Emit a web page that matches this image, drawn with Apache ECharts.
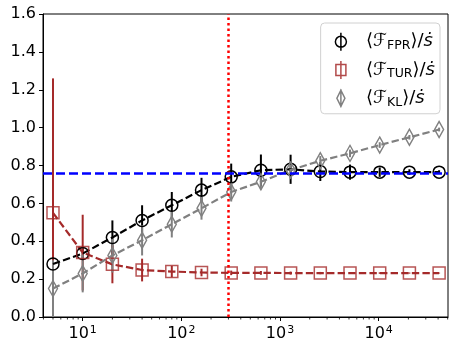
<!DOCTYPE html>
<html>
<head>
<meta charset="utf-8">
<script src="https://cdn.jsdelivr.net/npm/echarts@6/dist/echarts.min.js"></script>
<style>
  html, body { margin: 0; padding: 0; background: #fff; }
  #main { width: 457px; height: 350px; }
</style>
</head>
<body>
<div id="main"></div>
<script>
// data
var ns = [5, 10, 20, 40, 80, 160, 320, 640, 1280, 2560, 5120, 10240, 20480, 40960];
var fpr = [0.28, 0.335, 0.42, 0.51, 0.59, 0.67, 0.74, 0.775, 0.78, 0.768, 0.765, 0.765, 0.765, 0.765];
var fprErr = [0.02, 0.03, 0.09, 0.08, 0.07, 0.065, 0.07, 0.083, 0.077, 0.05, 0.04, 0.025, 0.015, 0.01];
var tur = [0.55, 0.34, 0.278, 0.248, 0.24, 0.235, 0.233, 0.233, 0.232, 0.232, 0.232, 0.232, 0.232, 0.232];
var turErr = [0.71, 0.2, 0.1, 0.06, 0.03, 0.02, 0.012, 0.01, 0.008, 0.006, 0.005, 0.004, 0.003, 0.002];
var kl = [0.15, 0.23, 0.325, 0.405, 0.49, 0.574, 0.66, 0.714, 0.776, 0.825, 0.864, 0.908, 0.949, 0.99];
var klErr = [0.15, 0.1, 0.09, 0.08, 0.07, 0.06, 0.05, 0.04, 0.03, 0.025, 0.02, 0.015, 0.012, 0.01];

var vLineX = 300;     // red dotted line
var hLineY = 0.764;   // blue dashed line
var yTicks = [0, 0.2, 0.4, 0.6, 0.8, 1.0, 1.2, 1.4, 1.6];

var X_MIN = 3.96, X_MAX = 50400;

// minor tick positions on the log axis
var minorTicks = [];
for (var e = 0; e <= 4; e++) {
  for (var m = 2; m <= 9; m++) {
    var v = m * Math.pow(10, e);
    if (v > X_MIN && v < X_MAX) minorTicks.push(v);
  }
}

var BLACK = '#000000', BROWN = '#a52a2a', GREY = '#808080';
var CLEAR = 'rgba(255,255,255,0)';

function errSeries(name, vals, errs, color) {
  return {
    type: 'custom',
    name: name,
    data: ns.map(function (n, i) { return [n, vals[i] - errs[i], vals[i] + errs[i]]; }),
    encode: { x: 0, y: [1, 2] },
    renderItem: function (params, api) {
      var cs = params.coordSys;
      var p1 = api.coord([api.value(0), api.value(1)]);
      var p2 = api.coord([api.value(0), api.value(2)]);
      var y1 = Math.min(Math.max(p1[1], cs.y), cs.y + cs.height);
      var y2 = Math.min(Math.max(p2[1], cs.y), cs.y + cs.height);
      return {
        type: 'line',
        shape: { x1: p1[0], y1: y1, x2: p2[0], y2: y2 },
        style: { stroke: color, lineWidth: 2 }
      };
    },
    silent: true
  };
}

function lineSeries(name, vals, color, symbol, size, opacity) {
  return {
    type: 'line',
    name: name,
    data: ns.map(function (n, i) { return [n, vals[i]]; }),
    symbol: symbol,
    symbolSize: size,
    showAllSymbol: true,
    lineStyle: { color: color, width: 2.2, type: [7.4, 3.2] },
    itemStyle: { color: CLEAR, borderColor: color, borderWidth: 1.5, opacity: opacity },
    emphasis: { disabled: true },
    animation: false
  };
}

var chart = echarts.init(document.getElementById('main'), null, { renderer: 'canvas' });

var option = {
  animation: false,
  grid: { left: 43, right: 9, top: 14, bottom: 33, show: true, borderColor: '#000', borderWidth: 1 },
  legend: {
    orient: 'vertical',
    right: 17,
    top: 23,
    padding: [9, 5, 5, 14],
    itemGap: 8,
    itemWidth: 18,
    itemHeight: 18,
    backgroundColor: 'rgba(255,255,255,0.85)',
    borderColor: '#d0d0d0',
    borderWidth: 1,
    borderRadius: 4,
    data: [
      { name: 'FPR', icon: 'path://M0.5,9 A5.5,5.5 0 1,1 11.5,9 A5.5,5.5 0 1,1 0.5,9 Z M6,0 L6,18',
        itemStyle: { color: CLEAR, borderColor: BLACK, borderWidth: 1.5 } },
      { name: 'TUR', icon: 'path://M1,3.5 L11,3.5 L11,14.5 L1,14.5 Z M6,0 L6,18',
        itemStyle: { color: CLEAR, borderColor: BROWN, borderWidth: 1.5, opacity: 0.85 } },
      { name: 'KL', icon: 'path://M6,1 L10,9 L6,17 L2,9 Z M6,0 L6,18',
        itemStyle: { color: CLEAR, borderColor: GREY, borderWidth: 1.5 } }
    ],
    formatter: function (name) {
      return '{a|⟨}{f|ℱ}{sub|' + name + '}{a|⟩/}{s|ṡ}';
    },
    textStyle: {
      color: '#000',
      padding: [0, 0, 0, 11],
      rich: {
        a: { fontSize: 18, fontFamily: 'DejaVu Sans', color: '#000' },
        f: { fontSize: 18, fontFamily: 'DejaVu Sans', fontStyle: 'italic', color: '#000' },
        sub: { fontSize: 12.5, fontFamily: 'DejaVu Sans', color: '#000', verticalAlign: 'bottom', padding: [8, 0, 0, 0] },
        s: { fontSize: 18, fontFamily: 'DejaVu Sans', fontStyle: 'italic', color: '#000' }
      }
    }
  },
  xAxis: {
    type: 'log',
    logBase: 10,
    min: X_MIN,
    max: X_MAX,
    axisLine: { show: true, lineStyle: { color: '#000', width: 1 } },
    axisTick: { show: true, inside: false, length: 4, lineStyle: { color: '#000' } },
    splitLine: { show: false },
    axisLabel: {
      showMinLabel: false,
      showMaxLabel: false,
      margin: 8,
      color: '#000',
      formatter: function (v) {
        var e = Math.round(Math.log10(v));
        return '{b|10}{p|' + e + '}';
      },
      rich: {
        b: { fontSize: 16, fontFamily: 'DejaVu Sans', color: '#000' },
        p: { fontSize: 11, fontFamily: 'DejaVu Sans', color: '#000', verticalAlign: 'top', padding: [0, 0, 7, 1] }
      }
    }
  },
  yAxis: {
    type: 'value',
    min: yTicks[0],
    max: yTicks[yTicks.length - 1],
    interval: 0.2,
    axisLine: { show: true, lineStyle: { color: '#000', width: 1 } },
    axisTick: { show: true, inside: false, length: 4, lineStyle: { color: '#000' } },
    splitLine: { show: false },
    axisLabel: {
      margin: 7,
      color: '#000',
      fontSize: 16,
      fontFamily: 'DejaVu Sans',
      formatter: function (v) { return v.toFixed(1); }
    }
  },
  series: [
    lineSeries('FPR', fpr, BLACK, 'circle', 12, 1),
    errSeries('FPR-err', fpr, fprErr, BLACK),
    lineSeries('TUR', tur, BROWN, 'rect', 12, 0.8),
    errSeries('TUR-err', tur, turErr, BROWN),
    lineSeries('KL', kl, GREY, 'diamond', [9, 16], 1),
    errSeries('KL-err', kl, klErr, GREY),
    {
      type: 'custom',
      name: 'minor',
      data: minorTicks.map(function (v) { return [v, 0]; }),
      clip: false,
      silent: true,
      renderItem: function (params, api) {
        var p = api.coord([api.value(0), 0]);
        return {
          type: 'line',
          shape: { x1: p[0], y1: p[1], x2: p[0], y2: p[1] + 2.5 },
          style: { stroke: '#000', lineWidth: 0.8 }
        };
      }
    },
    {
      type: 'line',
      name: 'refs',
      data: [],
      silent: true,
      markLine: {
        symbol: 'none',
        silent: true,
        label: { show: false },
        animation: false,
        data: [
          { xAxis: vLineX, lineStyle: { color: '#ff0000', width: 2.5, type: [2.5, 3] } },
          { yAxis: hLineY, lineStyle: { color: '#0000ff', width: 2.5, type: [9, 4] } }
        ]
      }
    }
  ]
};

chart.setOption(option);
</script>
</body>
</html>
